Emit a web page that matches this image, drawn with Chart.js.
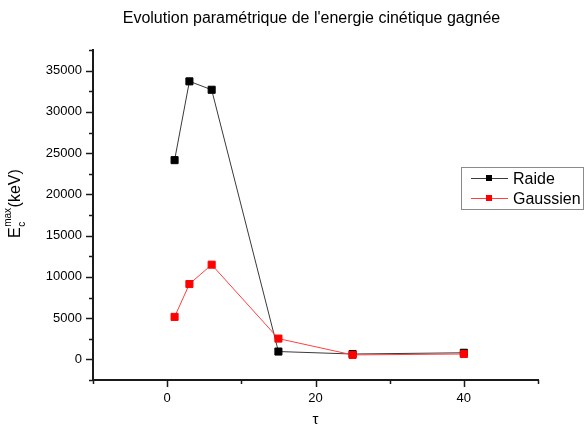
<!DOCTYPE html>
<html>
<head>
<meta charset="utf-8">
<script src="https://cdn.jsdelivr.net/npm/chart.js@4/dist/chart.umd.min.js"></script>
<style>
  html, body { margin: 0; padding: 0; background: #fff; }
  #wrap { width: 584px; height: 425px; position: relative; }
</style>
</head>
<body>
<div id="wrap"><canvas id="chart"></canvas></div>
<script>
const FONT = '"Liberation Sans", Arial, sans-serif';

// tau values and max kinetic energy (keV) for each profile
const tauValues = [1, 3, 6, 15, 25, 40];
const raideValues = [24150, 33700, 32680, 950, 650, 800];
const gaussienValues = [5150, 9130, 11480, 2520, 540, 650];

const seriesLabels = ['Raide', 'Gaussien'];
const xMajorTicks = [0, 20, 40];
const yMajorTicks = [0, 5000, 10000, 15000, 20000, 25000, 30000, 35000];

const titleText = "Evolution paramétrique de l'energie cinétique gagnée";

const toPoints = (values) => tauValues.map((t, i) => ({ x: t, y: values[i] }));

const datasets = [
    {
        label: seriesLabels[0],
        data: toPoints(raideValues),
        borderColor: '#3a3a3a',
        backgroundColor: '#000000',
        pointBorderColor: '#000000',
        borderWidth: 1,
        order: 1,
    },
    {
        label: seriesLabels[1],
        data: toPoints(gaussienValues),
        borderColor: '#ff4040',
        backgroundColor: '#ff0000',
        pointBorderColor: '#ff0000',
        borderWidth: 1,
        order: 0,
    }
];

// tick marks, titles and the framed legend
const decorations = {
    id: 'decorations',
    afterDraw(chart) {
        const ctx = chart.ctx;
        const { x, y } = chart.scales;
        const area = chart.chartArea;
        ctx.save();
        ctx.strokeStyle = '#1a1a1a';
        ctx.lineWidth = 1.5;

        // x tick marks, major every 20, minor every 10
        for (let v = -10; v <= 50; v += 10) {
            const px = Math.round(x.getPixelForValue(v)) + 0.5;
            const len = xMajorTicks.includes(v) ? 7 : 4;
            ctx.beginPath();
            ctx.moveTo(px, area.bottom);
            ctx.lineTo(px, area.bottom + len);
            ctx.stroke();
        }
        // y tick marks, major every 5000, minor every 2500
        for (let v = -2500; v <= 37500; v += 2500) {
            const py = Math.round(y.getPixelForValue(v)) + 0.5;
            const len = yMajorTicks.includes(v) ? 7 : 4;
            ctx.beginPath();
            ctx.moveTo(area.left, py);
            ctx.lineTo(area.left - len, py);
            ctx.stroke();
        }

        ctx.fillStyle = '#000';

        // chart title
        ctx.font = '16px ' + FONT;
        ctx.textAlign = 'center';
        ctx.textBaseline = 'alphabetic';
        ctx.fillText(titleText, 311.5, 23);

        // x axis title
        ctx.font = '15px ' + FONT;
        ctx.fillText('τ', x.getPixelForValue(20), 424);

        // y axis title: E with subscript c and superscript max
        ctx.save();
        ctx.translate(20, 238);
        ctx.rotate(-Math.PI / 2);
        ctx.textAlign = 'left';
        ctx.font = '16px ' + FONT;
        let pos = 0;
        ctx.fillText('E', pos, 0);
        pos += ctx.measureText('E').width + 0.5;
        ctx.font = '10px ' + FONT;
        ctx.fillText('max', pos, -9);
        ctx.fillText('c', pos, 5);
        pos += ctx.measureText('max').width + 0.5;
        ctx.font = '16px ' + FONT;
        ctx.fillText('(keV)', pos, 0);
        ctx.restore();

        // legend
        ctx.strokeStyle = '#8a8a8a';
        ctx.lineWidth = 1;
        ctx.strokeRect(461.5, 167.5, 122, 42);
        ctx.font = '16px ' + FONT;
        ctx.textAlign = 'left';
        ctx.textBaseline = 'middle';
        chart.data.datasets.forEach((ds, i) => {
            const ly = 178.5 + i * 20;
            ctx.strokeStyle = ds.borderColor;
            ctx.beginPath();
            ctx.moveTo(471, ly);
            ctx.lineTo(508, ly);
            ctx.stroke();
            ctx.fillStyle = ds.backgroundColor;
            ctx.fillRect(486, ly - 3.5, 6, 6);
            ctx.fillStyle = '#000';
            ctx.fillText(ds.label, 513, ly + 1);
        });
        ctx.restore();
    }
};

new Chart('chart', {
    type: 'line',
    data: { datasets },
    plugins: [decorations],
    options: {
        responsive: true,
        maintainAspectRatio: false,
        animation: false,
        layout: { padding: { top: 50, right: 46, bottom: 0, left: 0 } },
        elements: {
            line: { tension: 0 },
            point: { pointStyle: 'rect', radius: 5, borderWidth: 1 }
        },
        plugins: {
            legend: { display: false },
            title: { display: false },
            tooltip: { enabled: false }
        },
        scales: {
            x: {
                type: 'linear',
                min: -10,
                max: 50,
                afterBuildTicks: (scale) => {
                    scale.ticks = xMajorTicks.map(v => ({ value: v }));
                },
                afterFit: (scale) => { scale.height = 45; },
                grid: { display: false },
                border: { display: true, color: '#1a1a1a', width: 2 },
                ticks: {
                    color: '#000',
                    font: { family: FONT, size: 13 },
                    padding: 3,
                    maxRotation: 0,
                    autoSkip: false
                }
            },
            y: {
                type: 'linear',
                min: -2500,
                max: 37500,
                afterBuildTicks: (scale) => {
                    scale.ticks = yMajorTicks.map(v => ({ value: v }));
                },
                afterFit: (scale) => { scale.width = 93; },
                grid: { display: false },
                border: { display: true, color: '#1a1a1a', width: 2 },
                ticks: {
                    color: '#000',
                    font: { family: FONT, size: 13 },
                    padding: 3,
                    autoSkip: false,
                    callback: (v) => String(v)
                }
            }
        }
    }
});
</script>
</body>
</html>
